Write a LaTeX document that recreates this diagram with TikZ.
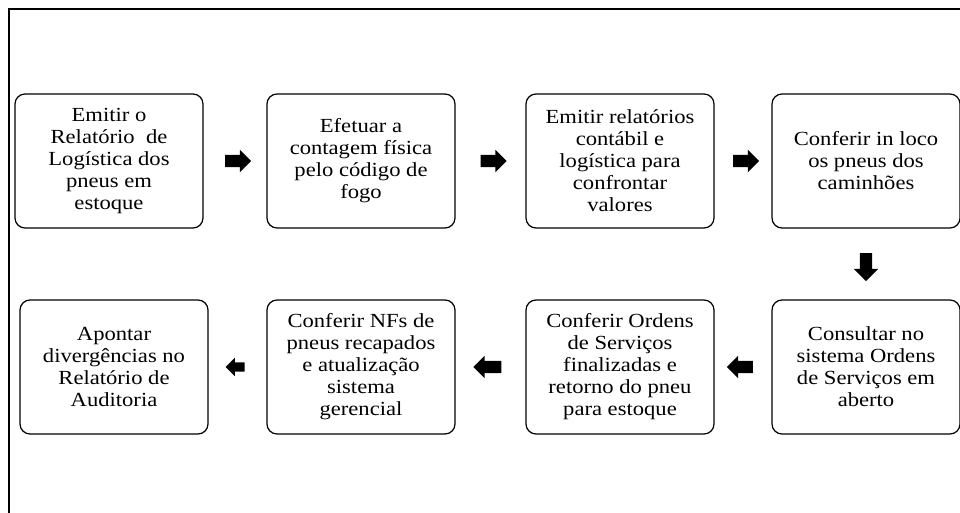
\documentclass[tikz,border=0pt]{standalone}
\usepackage{fontspec}
\setmainfont[FakeStretch=1.13]{Liberation Serif}
\usetikzlibrary{shapes.arrows,calc}

\begin{document}
\begin{tikzpicture}[x=1pt, y=-1pt, font=\fontsize{20}{22}\selectfont,
	etapa/.style={draw, line width=1.2pt, rounded corners=10pt, align=center,
			minimum width=188pt, minimum height=134pt, inner sep=0pt},
	seta/.style={single arrow, fill=black, draw=none, inner sep=6pt,
			minimum height=26pt, single arrow head extend=5pt,
			single arrow head indent=0pt}]

	\useasboundingbox (0,0) rectangle (960,513);

	% Draw the frame
	\draw[line width=1.6pt] (9,513) -- (9,9) -- (960,9);

	% Draw the first row of steps
	\node[etapa] (e1) at (109,161) {Emitir o\\Relatório~ de\\Logística dos\\pneus em\\estoque};
	\node[etapa] (e2) at (361,161) {Efetuar a\\contagem física\\pelo código de\\fogo};
	\node[etapa] (e3) at (620,161) {Emitir relatórios\\contábil e\\logística para\\confrontar\\valores};
	\node[etapa] (e4) at (866,161) {Conferir in loco\\os pneus dos\\caminhões};

	% Draw the second row of steps
	\node[etapa] (e5) at (866,367) {Consultar no\\sistema Ordens\\de Serviços em\\aberto};
	\node[etapa] (e6) at (620,367) {Conferir Ordens\\de Serviços\\finalizadas e\\retorno do pneu\\para estoque};
	\node[etapa] (e7) at (361,367) {Conferir NFs de\\pneus recapados\\e atualização\\sistema\\gerencial};
	\node[etapa] (e8) at (114,367) {Apontar\\divergências no\\Relatório de\\Auditoria};

	% Draw the block arrows between the steps
	\node[seta] (s1) at ($(e1.east)!0.5!(e2.west)$) {};
	\node[seta] (s2) at ($(e2.east)!0.5!(e3.west)$) {};
	\node[seta] (s3) at ($(e3.east)!0.5!(e4.west)$) {};
	\node[seta, shape border rotate=270, minimum height=28pt, single arrow head extend=6pt] (s4) at ($(e4.south)!0.5!(e5.north)$) {};
	\node[seta, shape border rotate=180] (s5) at ($(e5.west)!0.5!(e6.east)$) {};
	\node[seta, shape border rotate=180, minimum height=28pt] (s6) at ($(e6.west)!0.5!(e7.east)$) {};
	\node[seta, shape border rotate=180, inner sep=4.5pt, minimum height=19pt, single arrow head extend=4.5pt] (s7) at ($(e7.west)!0.5!(e8.east)$) {};
\end{tikzpicture}
\end{document}
